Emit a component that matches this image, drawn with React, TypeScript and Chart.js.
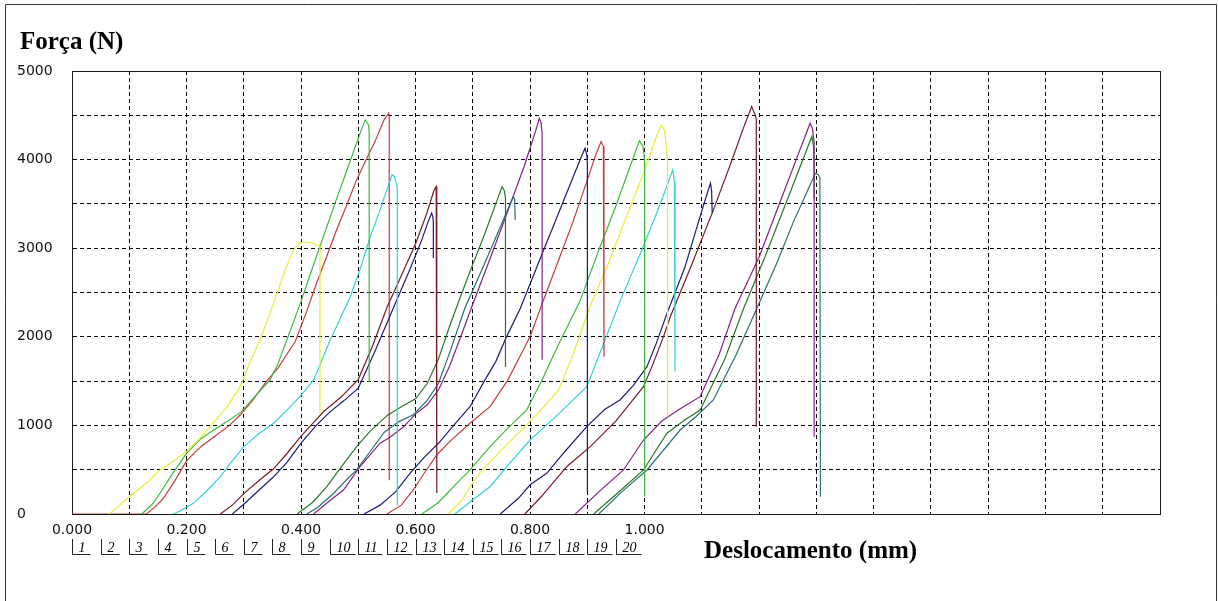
import React, { useEffect, useRef } from 'react';
import { Chart, registerables } from 'chart.js';

Chart.register(...registerables);

// ---------- text ----------
const yAxisTitle = 'Força (N)';
const xAxisTitle = 'Deslocamento (mm)';
const xTickLabels = ['0.000', '0.200', '0.400', '0.600', '0.800', '1.000'];
const yTickLabels = ['0', '1000', '2000', '3000', '4000', '5000'];
const legendLabels = ['1', '2', '3', '4', '5', '6', '7', '8', '9', '10', '11', '12', '13', '14', '15', '16', '17', '18', '19', '20'];

// ---------- series (x: mm, y: N) ----------
const yellow1X = [0.065, 0.08, 0.10, 0.13, 0.154, 0.18, 0.20, 0.22, 0.241, 0.27, 0.294, 0.31, 0.328, 0.345, 0.358, 0.372, 0.387, 0.398, 0.41, 0.42, 0.43, 0.433, 0.433];
const yellow1Y = [0, 80, 195, 350, 497, 610, 703, 830, 986, 1200, 1440, 1700, 1965, 2250, 2492, 2750, 2980, 3060, 3070, 3060, 3030, 3030, 1140];

const green1X = [0.122, 0.14, 0.154, 0.175, 0.20, 0.225, 0.25, 0.275, 0.296, 0.32, 0.346, 0.36, 0.38, 0.40, 0.42, 0.44, 0.46, 0.48, 0.495, 0.505, 0.512, 0.518, 0.519, 0.519];
const green1Y = [0, 110, 237, 450, 685, 850, 960, 1060, 1155, 1330, 1513, 1700, 2050, 2400, 2780, 3150, 3520, 3880, 4150, 4330, 4448, 4392, 4300, 1490];

const red1X = [0, 0.066, 0.13, 0.145, 0.16, 0.18, 0.20, 0.225, 0.25, 0.275, 0.294, 0.315, 0.34, 0.36, 0.39, 0.41, 0.427, 0.445, 0.462, 0.48, 0.497, 0.513, 0.529, 0.545, 0.553, 0.554, 0.554];
const red1Y = [0, 0, 0, 80, 180, 380, 600, 760, 880, 1000, 1120, 1280, 1500, 1650, 1950, 2290, 2605, 2910, 3206, 3490, 3771, 3990, 4203, 4450, 4524, 4480, 380];

const cyan1X = [0.177, 0.19, 0.212, 0.235, 0.259, 0.28, 0.30, 0.325, 0.352, 0.375, 0.398, 0.422, 0.451, 0.486, 0.505, 0.521, 0.538, 0.552, 0.559, 0.563, 0.566, 0.568, 0.568];
const cyan1Y = [0, 40, 120, 260, 421, 600, 760, 900, 1024, 1170, 1324, 1513, 1965, 2453, 2800, 3131, 3432, 3700, 3830, 3810, 3740, 3700, 100];

const maroon1X = [0.259, 0.28, 0.30, 0.325, 0.352, 0.375, 0.40, 0.42, 0.44, 0.47, 0.50, 0.525, 0.55, 0.575, 0.60, 0.62, 0.632, 0.636, 0.637, 0.637];
const maroon1Y = [0, 100, 230, 370, 510, 680, 880, 1020, 1160, 1320, 1520, 1900, 2330, 2690, 3050, 3400, 3650, 3695, 3660, 237];

const navy1X = [0.28, 0.30, 0.325, 0.352, 0.375, 0.40, 0.425, 0.45, 0.475, 0.50, 0.53, 0.561, 0.59, 0.61, 0.622, 0.628, 0.630, 0.631, 0.631];
const navy1Y = [0, 110, 260, 420, 580, 800, 990, 1150, 1280, 1420, 1850, 2322, 2760, 3080, 3300, 3395, 3360, 3300, 2890];

const darkGreen1X = [0.393, 0.42, 0.445, 0.47, 0.497, 0.52, 0.55, 0.575, 0.60, 0.62, 0.64, 0.66, 0.68, 0.70, 0.72, 0.74, 0.751, 0.755, 0.757, 0.757];
const darkGreen1Y = [0, 130, 308, 530, 760, 930, 1110, 1210, 1300, 1470, 1750, 2130, 2480, 2820, 3150, 3500, 3695, 3650, 3560, 1660];

const teal1X = [0.41, 0.43, 0.457, 0.48, 0.497, 0.52, 0.545, 0.57, 0.596, 0.62, 0.64, 0.66, 0.686, 0.72, 0.75, 0.765, 0.771, 0.773, 0.774];
const teal1Y = [0, 80, 234, 390, 497, 700, 920, 1040, 1120, 1280, 1476, 1830, 2322, 2820, 3270, 3500, 3580, 3550, 3320];

const purple1X = [0.422, 0.45, 0.474, 0.503, 0.538, 0.556, 0.58, 0.60, 0.62, 0.64, 0.66, 0.68, 0.70, 0.73, 0.76, 0.79, 0.81, 0.816, 0.819, 0.821, 0.821];
const purple1Y = [0, 150, 271, 534, 800, 870, 990, 1130, 1230, 1400, 1680, 2020, 2370, 2880, 3400, 3930, 4330, 4465, 4420, 4300, 1740];

const navy2X = [0.51, 0.538, 0.565, 0.591, 0.615, 0.64, 0.665, 0.695, 0.72, 0.74, 0.759, 0.783, 0.82, 0.85, 0.875, 0.89, 0.896, 0.899, 0.900, 0.900];
const navy2Y = [0, 100, 250, 463, 640, 798, 990, 1211, 1500, 1720, 2002, 2322, 2920, 3400, 3800, 4040, 4129, 4050, 3960, 252];

const red2X = [0.55, 0.575, 0.596, 0.615, 0.637, 0.66, 0.695, 0.73, 0.76, 0.78, 0.80, 0.818, 0.85, 0.875, 0.899, 0.915, 0.924, 0.928, 0.929, 0.929];
const red2Y = [0, 100, 271, 460, 666, 820, 1024, 1211, 1500, 1750, 2002, 2322, 2870, 3300, 3752, 4060, 4203, 4150, 4000, 1776];

const green2X = [0.611, 0.64, 0.665, 0.695, 0.73, 0.76, 0.794, 0.82, 0.85, 0.887, 0.92, 0.95, 0.975, 0.991, 0.997, 1.0, 1.0];
const green2Y = [0, 130, 300, 497, 760, 960, 1174, 1500, 1920, 2400, 2980, 3480, 3930, 4211, 4150, 4000, 195];

const yellow2X = [0.657, 0.68, 0.71, 0.75, 0.79, 0.82, 0.85, 0.875, 0.905, 0.935, 0.965, 1.0, 1.02, 1.029, 1.035, 1.039, 1.04, 1.04];
const yellow2Y = [0, 150, 450, 720, 980, 1180, 1400, 1800, 2350, 2800, 3300, 3880, 4250, 4390, 4330, 4050, 3990, 1099];

const cyan2X = [0.669, 0.70, 0.73, 0.76, 0.80, 0.85, 0.899, 0.93, 0.957, 0.99, 1.02, 1.04, 1.049, 1.052, 1.053, 1.053];
const cyan2Y = [0, 160, 308, 540, 835, 1130, 1437, 1950, 2400, 2900, 3380, 3720, 3884, 3750, 3640, 1607];

const navy3X = [0.748, 0.78, 0.80, 0.829, 0.86, 0.899, 0.93, 0.957, 0.98, 1.004, 1.02, 1.04, 1.07, 1.09, 1.105, 1.115, 1.117, 1.118];
const navy3Y = [0, 180, 330, 459, 700, 986, 1180, 1287, 1450, 1663, 1920, 2280, 2780, 3210, 3530, 3734, 3650, 3395];

const maroon2X = [0.791, 0.82, 0.864, 0.905, 0.95, 0.998, 1.015, 1.033, 1.045, 1.08, 1.12, 1.15, 1.175, 1.187, 1.193, 1.195, 1.195];
const maroon2Y = [0, 200, 534, 760, 1050, 1437, 1700, 2002, 2230, 2780, 3430, 3950, 4400, 4599, 4505, 4450, 986];

const purple2X = [0.879, 0.92, 0.963, 0.998, 1.03, 1.06, 1.097, 1.13, 1.158, 1.20, 1.24, 1.27, 1.289, 1.293, 1.296, 1.296];
const purple2Y = [0, 250, 497, 835, 1050, 1180, 1324, 1800, 2322, 2900, 3580, 4090, 4411, 4350, 4200, 873];

const darkGreen2X = [0.911, 0.95, 0.998, 1.039, 1.07, 1.097, 1.14, 1.173, 1.21, 1.25, 1.28, 1.292, 1.295, 1.296, 1.296];
const darkGreen2Y = [0, 220, 497, 911, 1060, 1174, 1750, 2322, 2900, 3560, 4060, 4260, 4150, 3900, 3560];

const teal2X = [0.92, 0.96, 1.004, 1.062, 1.09, 1.12, 1.16, 1.196, 1.23, 1.26, 1.289, 1.298, 1.303, 1.306, 1.307];
const teal2Y = [0, 250, 497, 948, 1100, 1287, 1800, 2322, 2820, 3300, 3714, 3846, 3830, 3800, 195];

// ---------- styles ----------
const C_YELLOW = '#eaea38';
const C_GREEN = '#3cba3c';
const C_RED = '#c23c3c';
const C_CYAN = '#34d0da';
const C_MAROON = '#7a1a24';
const C_NAVY = '#1c1c7c';
const C_DKGREEN = '#2a762a';
const C_PURPLE = '#842284';
const C_TEAL = '#287272';

const seriesTable: [number[], number[], string][] = [
  [yellow1X, yellow1Y, C_YELLOW],
  [green1X, green1Y, C_GREEN],
  [cyan1X, cyan1Y, C_CYAN],
  [maroon1X, maroon1Y, C_MAROON],
  [navy1X, navy1Y, C_NAVY],
  [darkGreen1X, darkGreen1Y, C_DKGREEN],
  [teal1X, teal1Y, C_TEAL],
  [purple1X, purple1Y, C_PURPLE],
  [navy2X, navy2Y, C_NAVY],
  [red2X, red2Y, C_RED],
  [green2X, green2Y, C_GREEN],
  [yellow2X, yellow2Y, C_YELLOW],
  [cyan2X, cyan2Y, C_CYAN],
  [navy3X, navy3Y, C_NAVY],
  [maroon2X, maroon2Y, C_MAROON],
  [purple2X, purple2Y, C_PURPLE],
  [darkGreen2X, darkGreen2Y, C_DKGREEN],
  [teal2X, teal2Y, C_TEAL],
  [red1X, red1Y, C_RED],
];

const decorPlugin = {
  id: 'decor',
  beforeDatasetsDraw(chart: any) {
    const { ctx, chartArea: a } = chart;
    ctx.save();
    ctx.strokeStyle = '#1a1a1a';
    ctx.lineWidth = 1;
    ctx.setLineDash([]);
    ctx.strokeRect(Math.round(a.left) + 0.5, Math.round(a.top) + 0.5, Math.round(a.right - a.left), Math.round(a.bottom - a.top));
    ctx.restore();
  },
  afterDraw(chart: any) {
    const { ctx } = chart;
    const xs = chart.scales.x;
    ctx.save();
    // outer frame
    ctx.strokeStyle = '#3a3a3a';
    ctx.lineWidth = 1;
    ctx.beginPath();
    ctx.moveTo(5.5, 601);
    ctx.lineTo(5.5, 4.5);
    ctx.lineTo(1216.5, 4.5);
    ctx.lineTo(1216.5, 601);
    ctx.stroke();
    // titles
    ctx.fillStyle = '#000';
    ctx.textBaseline = 'alphabetic';
    ctx.textAlign = 'left';
    ctx.font = 'bold 25px "Liberation Serif", "Times New Roman", serif';
    ctx.fillText(yAxisTitle, 20, 49);
    ctx.fillText(xAxisTitle, 704, 558);
    // legend brackets
    ctx.font = 'italic 14px "Liberation Serif", serif';
    ctx.strokeStyle = '#222';
    legendLabels.forEach((lab, i) => {
      const x = Math.round(xs.getPixelForValue(i * 0.05)) + 0.5;
      const w = ctx.measureText(lab).width;
      ctx.beginPath();
      ctx.moveTo(x, 539);
      ctx.lineTo(x, 554.5);
      ctx.lineTo(x + w + 11, 554.5);
      ctx.stroke();
      ctx.fillText(lab, x + 6, 552);
    });
    ctx.restore();
  },
};

export default function App() {
  const ref = useRef<HTMLCanvasElement>(null);
  useEffect(() => {
    const datasets = seriesTable.map(([xs, ys, color], i) => ({
      label: legendLabels[i],
      data: xs.map((x, j) => ({ x, y: ys[j] })),
      borderColor: color,
      backgroundColor: color,
      borderWidth: 1.2,
      pointRadius: 0,
      tension: 0,
      fill: false,
    }));
    const chart = new Chart(ref.current as HTMLCanvasElement, {
      type: 'line',
      data: { datasets },
      plugins: [decorPlugin],
      options: {
        responsive: false,
        animation: false,
        devicePixelRatio: 1,
        events: [],
        layout: { padding: { left: 17, top: 71, right: 58, bottom: 0 } },
        plugins: { legend: { display: false }, tooltip: { enabled: false }, title: { display: false } },
        scales: {
          x: {
            type: 'linear',
            min: 0,
            max: 1.9,
            afterFit: (s: any) => { s.height = 87; },
            ticks: {
              stepSize: 0.1,
              autoSkip: false,
              maxRotation: 0,
              padding: 8,
              color: '#111',
              font: { family: 'DejaVu Sans', size: 14 },
              callback: (v: any) => {
                const s = Number(v).toFixed(3);
                return xTickLabels.includes(s) ? s : '';
              },
            },
            grid: { color: '#000', lineWidth: 1, drawTicks: false },
            border: { display: true, color: '#1a1a1a', width: 1, dash: [4, 3] },
          },
          y: {
            type: 'linear',
            min: 0,
            max: 5000,
            afterFit: (s: any) => { s.width = 55; },
            ticks: {
              stepSize: 500,
              autoSkip: false,
              crossAlign: 'far',
              padding: 4,
              color: '#111',
              font: { family: 'DejaVu Sans', size: 14 },
              callback: (v: any) => {
                const s = String(Math.round(Number(v)));
                return yTickLabels.includes(s) ? s : '';
              },
            },
            grid: { color: '#000', lineWidth: 1, drawTicks: false },
            border: { display: true, color: '#1a1a1a', width: 1, dash: [4, 3] },
          },
        },
      } as any,
    });
    return () => chart.destroy();
  }, []);
  return (
    <div style={{ position: 'absolute', left: 0, top: 0, width: 1218, height: 601, background: '#fff' }}>
      <canvas ref={ref} width={1218} height={601} style={{ display: 'block' }} />
    </div>
  );
}
